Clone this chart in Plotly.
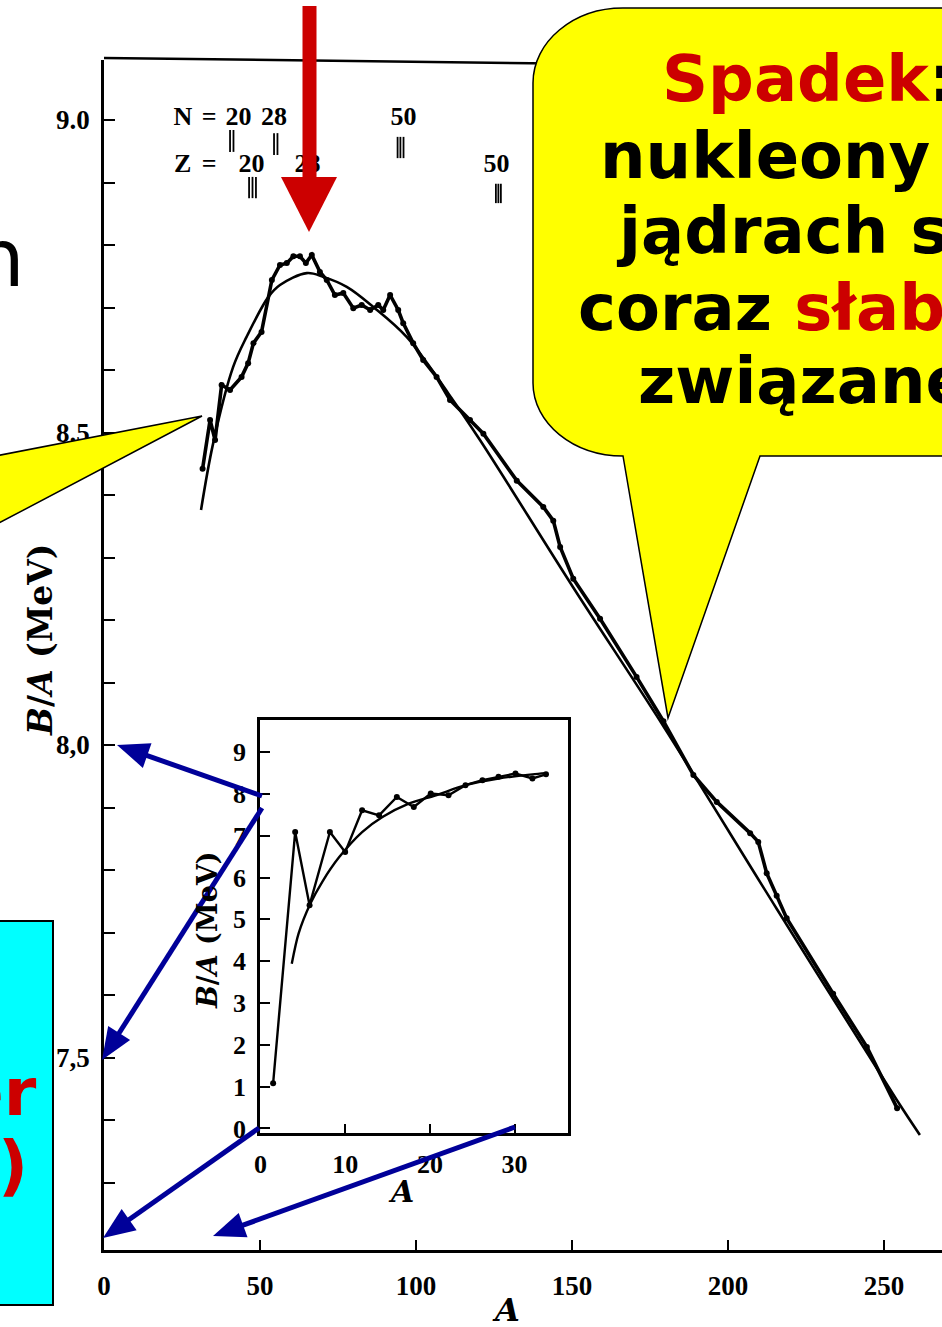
import math
import plotly.graph_objects as go

# ---------------- figure geometry ----------------
W, H = 942, 1327
ML, MR, MT, MB = 104, 0, 60, 77
PW, PH = W - ML - MR, H - MT - MB


def px2x(px):
    return (px - ML) / PW


def py2y(py):
    return (H - MB - py) / PH


# ---------------- main chart: B/A versus A ----------------
exp_A = [31.6, 34.0, 35.6, 37.7, 40.4, 44.1, 46.2, 47.9, 50.5, 53.8,
         56.4, 58.6, 60.7, 62.8, 64.7, 66.6, 69.2, 71.4, 74.0, 76.7,
         79.9, 82.6, 85.3, 87.9, 89.5, 91.7, 94.3, 95.9, 99.1, 102.3,
         106.6, 110.9, 117.3, 121.6, 132.3, 140.8, 144.0, 146.2, 150.4, 159.0,
         170.7, 179.3, 188.9, 196.4, 207.1, 209.7, 212.4, 215.6, 218.8, 233.7,
         244.5, 254.2]
exp_BA = [8.442, 8.520, 8.488, 8.576, 8.568, 8.589, 8.611, 8.643, 8.661, 8.744,
          8.768, 8.771, 8.782, 8.782, 8.771, 8.784, 8.757, 8.744, 8.720, 8.723,
          8.699, 8.704, 8.696, 8.704, 8.696, 8.720, 8.696, 8.675, 8.643, 8.616,
          8.589, 8.552, 8.520, 8.498, 8.423, 8.381, 8.359, 8.317, 8.266, 8.202,
          8.109, 8.038, 7.952, 7.909, 7.859, 7.845, 7.795, 7.759, 7.723, 7.602,
          7.517, 7.419]

fit_A = [31.1, 35.0, 41.4, 45.7, 52.7, 56.4, 65.0, 70.3, 77.8, 86.3,
         97.0, 110.3, 120.5, 150.4, 179.3, 215.6, 254.1, 261.5]
fit_BA = [8.376, 8.483, 8.605, 8.653, 8.717, 8.736, 8.755, 8.749, 8.733, 8.701,
          8.653, 8.563, 8.488, 8.252, 8.030, 7.738, 7.432, 7.376]

main_y_ticks = [7.3, 7.4, 7.5, 7.6, 7.7, 7.8, 7.9, 8.0, 8.1, 8.2,
                8.3, 8.4, 8.5, 8.6, 8.7, 8.8, 8.9, 9.0]
main_y_labels = {7.5: "7,5", 8.0: "8,0", 8.5: "8.5", 9.0: "9.0"}
main_x_ticks = [0, 50, 100, 150, 200, 250]

# magic-number markers along the top of the chart
magic_text = ["N", "=", "20", "28", "50", "Z", "=", "20", "28", "50"]
magic_text_A = [25.3, 33.7, 43.1, 54.5, 96.0, 25.2, 33.7, 47.3, 65.2, 125.8]
magic_text_BA = [9.003, 9.003, 9.003, 9.003, 9.003, 8.928, 8.928, 8.928, 8.928, 8.928]
magic_bar_groups = [
    ([40.4, 41.5], 8.984, 8.949),
    ([54.5, 55.6], 8.979, 8.944),
    ([94.1, 95.0, 96.0], 8.973, 8.939),
    ([46.5, 47.6, 48.7], 8.909, 8.875),
    ([125.6, 126.4, 127.2], 8.898, 8.867),
]

# ---------------- inset: light nuclei ----------------
light_A = [1.5, 4.1, 5.8, 8.2, 10.0, 12.0, 14.0, 16.1, 18.1, 20.1,
           22.2, 24.2, 26.2, 28.1, 30.1, 32.1, 33.7]
light_BA = [1.08, 7.09, 5.34, 7.09, 6.61, 7.61, 7.49, 7.93, 7.69, 8.01,
            7.97, 8.21, 8.33, 8.41, 8.49, 8.37, 8.47]
light_fit_A = [3.7, 4.5, 5.9, 7.3, 9.3, 12.0, 14.4, 17.5, 20.7, 24.2, 28.1, 32.1, 33.7]
light_fit_BA = [3.94, 4.66, 5.38, 5.90, 6.49, 7.09, 7.45, 7.77, 7.97, 8.21, 8.37, 8.47, 8.50]
inset_x_ticks = [0, 10, 20, 30]
inset_y_ticks = [0, 1, 2, 3, 4, 5, 6, 7, 8, 9]

RED = "#CC0000"
BLUE = "#000099"
YELLOW = "#FFFF00"
CYAN = "#00FFFF"
SERIF = "Liberation Serif"
SERIF_WIDE = "DejaVu Serif"
SANS = "DejaVu Sans"

fig = go.Figure()

# fitted (smooth) curve
fig.add_trace(go.Scatter(x=fit_A, y=fit_BA, mode="lines",
                         line=dict(color="black", width=2.6, shape="spline", smoothing=1.0),
                         hoverinfo="skip", showlegend=False))
# measured values
fig.add_trace(go.Scatter(x=exp_A, y=exp_BA, mode="lines+markers",
                         line=dict(color="black", width=3.6),
                         marker=dict(color="black", size=6),
                         hoverinfo="skip", showlegend=False))

# magic-number labels and their bars
fig.add_trace(go.Scatter(x=magic_text_A, y=magic_text_BA, mode="text", text=magic_text,
                         textposition="middle center",
                         textfont=dict(family=SERIF, size=26, color="black", weight="bold"),
                         hoverinfo="skip", showlegend=False, cliponaxis=False))
bar_x, bar_y = [], []
for xs, top, bot in magic_bar_groups:
    for xv in xs:
        bar_x += [xv, xv, None]
        bar_y += [top, bot, None]
fig.add_trace(go.Scatter(x=bar_x, y=bar_y, mode="lines",
                         line=dict(color="black", width=1.8),
                         hoverinfo="skip", showlegend=False))

# inset traces
fig.add_trace(go.Scatter(x=light_fit_A, y=light_fit_BA, mode="lines", xaxis="x2", yaxis="y2",
                         line=dict(color="black", width=2.4, shape="spline", smoothing=0.8),
                         hoverinfo="skip", showlegend=False))
fig.add_trace(go.Scatter(x=light_A, y=light_BA, mode="lines+markers", xaxis="x2", yaxis="y2",
                         line=dict(color="black", width=2.4),
                         marker=dict(color="black", size=6),
                         hoverinfo="skip", showlegend=False))

x_lo = 0.0
x_hi = PW / 3.12
y_lo = 9.0 - (H - MB - 120) / 625
y_hi = 9.0 + (120 - MT) / 625

fig.update_layout(
    width=W, height=H,
    margin=dict(l=ML, r=MR, t=MT, b=MB, pad=0),
    paper_bgcolor="white", plot_bgcolor="white",
    showlegend=False,
    xaxis=dict(domain=[0, 1], range=[x_lo, x_hi], showgrid=False, zeroline=False,
               showline=True, linecolor="black", linewidth=3,
               ticks="inside", ticklen=10, tickwidth=2, tickcolor="black",
               tickvals=main_x_ticks, ticktext=[str(v) for v in main_x_ticks],
               ticklabelstandoff=10,
               tickfont=dict(family=SERIF, size=27, color="black", weight="bold")),
    yaxis=dict(domain=[0, 1], range=[y_lo, y_hi], showgrid=False, zeroline=False,
               showline=True, linecolor="black", linewidth=2.6,
               ticks="inside", ticklen=11, tickwidth=2, tickcolor="black",
               tickvals=main_y_ticks,
               ticktext=[main_y_labels.get(round(v, 1), "") for v in main_y_ticks],
               ticklabelstandoff=6,
               tickfont=dict(family=SERIF, size=27, color="black", weight="bold")),
    xaxis2=dict(domain=[px2x(260), px2x(568)], anchor="y2", range=[-0.05, 36.3],
                showgrid=False, zeroline=False,
                showline=True, mirror=True, linecolor="black", linewidth=2.6,
                ticks="inside", ticklen=9, tickwidth=2, tickcolor="black",
                tickvals=inset_x_ticks, ticktext=[str(v) for v in inset_x_ticks],
                ticklabelstandoff=6,
                tickfont=dict(family=SERIF, size=26, color="black", weight="bold")),
    yaxis2=dict(domain=[py2y(1133), py2y(720)], anchor="x2", range=[-0.11, 9.77],
                showgrid=False, zeroline=False,
                showline=True, mirror=True, linecolor="black", linewidth=2.6,
                ticks="inside", ticklen=10, tickwidth=2, tickcolor="black",
                tickvals=inset_y_ticks, ticktext=[str(v) for v in inset_y_ticks],
                ticklabelstandoff=6,
                tickfont=dict(family=SERIF, size=26, color="black", weight="bold")),
)


# ---------------- overlay graphics ----------------
def P(px, py):
    return f"{px2x(px):.5f},{py2y(py):.5f}"


def path(cmds):
    out = []
    for c, pts in cmds:
        out.append(c + " " + " ".join(P(*p) for p in pts))
    return " ".join(out) + " Z"


shapes = []

# top frame line of the chart box
shapes.append(dict(type="line", xref="paper", yref="paper",
                   x0=0, y0=py2y(58), x1=px2x(600), y1=py2y(64),
                   line=dict(color="black", width=2.5), layer="above"))

# speech bubble on the right
k = 0.552
bubble = path([
    ("M", [(668, 718)]),
    ("L", [(623, 456)]),
    ("C", [(623 - 90 * k, 456), (533, 383 + 73 * k), (533, 383)]),
    ("L", [(533, 83)]),
    ("C", [(533, 83 - 75 * k), (623 - 90 * k, 8), (623, 8)]),
    ("L", [(980, 8)]),
    ("L", [(980, 456)]),
    ("L", [(760, 456)]),
])
shapes.append(dict(type="path", xref="paper", yref="paper", path=bubble,
                   fillcolor=YELLOW, line=dict(color="black", width=1.5), layer="above"))

# pointer of a bubble entering from the left
left_tail = path([("M", [(-20, 459)]), ("L", [(202, 416)]), ("L", [(-20, 533)])])
shapes.append(dict(type="path", xref="paper", yref="paper", path=left_tail,
                   fillcolor=YELLOW, line=dict(color="black", width=1.5), layer="above"))

# cyan box on the left
shapes.append(dict(type="rect", xref="paper", yref="paper",
                   x0=px2x(-10), x1=px2x(53), y0=py2y(1305), y1=py2y(921),
                   fillcolor=CYAN, line=dict(color="black", width=2), layer="above"))

# red arrow pointing at the maximum
shapes.append(dict(type="rect", xref="paper", yref="paper",
                   x0=px2x(302.5), x1=px2x(316.5), y0=py2y(180), y1=py2y(6),
                   fillcolor=RED, line=dict(width=0), layer="above"))
shapes.append(dict(type="path", xref="paper", yref="paper",
                   path=path([("M", [(281, 177)]), ("L", [(337, 177)]), ("L", [(309, 232)])]),
                   fillcolor=RED, line=dict(width=0), layer="above"))


# blue arrows linking the inset to the main axes
def blue_arrow(p0, p1, hl=32, hw=13, width=5):
    (x0, y0), (x1, y1) = p0, p1
    dx, dy = x1 - x0, y1 - y0
    d = math.hypot(dx, dy)
    ux, uy = dx / d, dy / d
    bx, by = x1 - ux * hl, y1 - uy * hl
    nx, ny = -uy, ux
    out = [dict(type="line", xref="paper", yref="paper",
                x0=px2x(x0), y0=py2y(y0), x1=px2x(bx + ux * 3), y1=py2y(by + uy * 3),
                line=dict(color=BLUE, width=width), layer="above"),
           dict(type="path", xref="paper", yref="paper",
                path=path([("M", [(x1, y1)]), ("L", [(bx + nx * hw, by + ny * hw)]),
                           ("L", [(bx - nx * hw, by - ny * hw)])]),
                fillcolor=BLUE, line=dict(width=0), layer="above")]
    return out


for a, b in [((262, 796), (117, 745)), ((262, 808), (102, 1060)),
             ((259, 1128), (103, 1238)), ((515, 1127), (213, 1236))]:
    shapes += blue_arrow(a, b)

fig.update_layout(shapes=shapes)

# ---------------- text ----------------
ann = []


def note(text, px, py, size, family, color="black", xanchor="left", yanchor="middle",
         weight="bold", angle=0):
    ann.append(dict(text=text, xref="paper", yref="paper", x=px2x(px), y=py2y(py),
                    xanchor=xanchor, yanchor=yanchor, showarrow=False, textangle=angle,
                    font=dict(family=family, size=size, color=color, weight=weight)))


note(f"<span style='color:{RED}'>Spadek</span>:", 660, 79, 64, SANS)
note("nukleony w", 598, 156, 64, SANS)
note("jądrach są", 614, 231, 64, SANS)
note(f"coraz <span style='color:{RED}'>słabiej</span>", 576, 308, 64, SANS)
note("związane", 636, 381, 64, SANS)

note("n", 27, 259, 80, SANS, xanchor="right", weight="normal")
note("er", 39, 1092, 66, SANS, color=RED, xanchor="right")
note(")", 30, 1165, 66, SANS, color=RED, xanchor="right")

# axis titles
note("<i>B</i>/<i>A</i> (MeV)", 40, 640, 33, SERIF_WIDE, xanchor="center", angle=-90)
note("<i>A</i>", 506, 1310, 32, SERIF_WIDE, xanchor="center")
note("<i>B</i>/<i>A</i> (MeV)", 207, 930, 27, SERIF_WIDE, xanchor="center", angle=-90)
note("<i>A</i>", 401, 1191, 30, SERIF_WIDE, xanchor="center")

fig.update_layout(annotations=ann)

fig.write_html("out.html")
